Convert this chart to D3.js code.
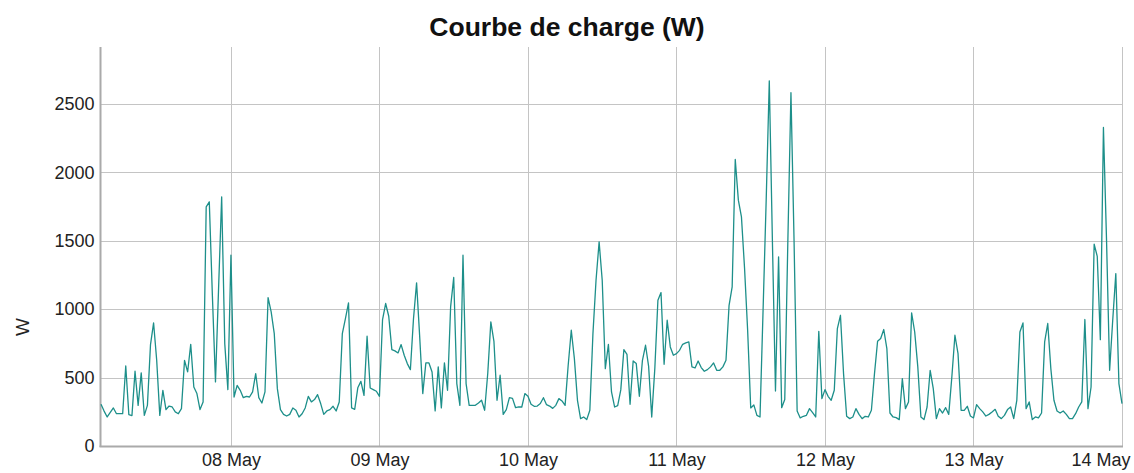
<!DOCTYPE html>
<html>
<head>
<meta charset="utf-8">
<script src="https://cdnjs.cloudflare.com/ajax/libs/d3/7.8.5/d3.min.js"></script>
<style>
  body { margin: 0; background: #fff; }
  svg { font-family: "Liberation Sans", Arial, sans-serif; }
</style>
</head>
<body>
<svg id="chart"></svg>
<script>
// half-hourly readings, starting 07 May 03:00
const startTime = Date.UTC(2023, 4, 7, 3, 0)
const stepMinutes = 30

const day07 = [305, 255, 212, 245, 278, 236, 236, 236, 585, 229, 222, 546, 297, 534, 224, 297, 741, 899, 626, 224,
  407, 266, 292, 285, 249, 236, 273, 626, 541, 743, 431, 383, 266, 322, 1747, 1784, 1100, 468, 1150, 1820, 748, 412]
const day08 = [1394, 358, 443, 407, 353, 363, 358, 395, 529, 353, 314, 395, 1084, 980, 821, 419, 266, 231, 219, 231,
  278, 261, 212, 236, 278, 363, 322, 339, 375, 310, 231, 256, 266, 290, 256, 322, 821, 931, 1045, 278,
  268, 425, 472, 370, 802, 424, 412, 400]
const day09 = [363, 924, 1041, 948, 704, 695, 680, 741, 663, 602, 558, 930, 1192, 800, 383, 607, 607, 541, 256, 578,
  278, 607, 407, 1016, 1231, 456, 297, 1394, 456, 297, 297, 297, 314, 334, 261, 530, 907, 765, 334, 517,
  231, 266, 353, 348, 280, 285, 285, 383]
const day10 = [363, 305, 290, 292, 310, 353, 302, 292, 275, 297, 346, 329, 297, 590, 846, 638, 334, 200, 212, 193,
  261, 821, 1211, 1491, 1211, 565, 743, 395, 285, 295, 410, 704, 670, 305, 621, 602, 363, 626, 736, 582,
  212, 565, 1065, 1121, 597, 919, 724, 663]
const day11 = [675, 699, 743, 753, 760, 578, 570, 621, 573, 546, 558, 578, 607, 553, 553, 578, 626, 1028, 1162, 2093,
  1796, 1674, 1300, 846, 278, 300, 224, 212, 1000, 1800, 2668, 1504, 402, 1382, 280, 339, 1500, 2581, 1504, 256,
  205, 217, 224, 273, 244, 212, 838, 346]
const day12 = [412, 363, 334, 407, 858, 955, 529, 217, 200, 212, 273, 231, 200, 217, 212, 261, 529, 765, 785, 851,
  712, 241, 212, 207, 193, 492, 273, 322, 972, 833, 578, 212, 193, 285, 553, 419, 200, 273, 241, 280,
  231, 504, 809, 675, 261, 261, 290, 219]
const day13 = [205, 302, 273, 249, 219, 231, 249, 268, 217, 200, 224, 266, 285, 200, 334, 833, 899, 273, 322, 193,
  212, 205, 241, 760, 895, 565, 334, 256, 241, 256, 231, 200, 200, 236, 285, 322, 924, 273, 431, 1474,
  1386, 777, 2327, 1504, 553, 919, 1260, 456]
const day14 = [309]

const dayTicks = [8, 9, 10, 11, 12, 13, 14].map(d => new Date(Date.UTC(2023, 4, d)))
const yTicks = [0, 500, 1000, 1500, 2000, 2500]

const loadW = [].concat(day07, day08, day09, day10, day11, day12, day13, day14)
const data = loadW.map((v, i) => ({ t: new Date(startTime + i * stepMinutes * 60000), v: v }))

let width = 1134
let height = 473
let plotLeft = 101, plotRight = 1122, plotTop = 47, plotBottom = 446

const svg = d3.select('#chart')
  .attr('width', width)
  .attr('height', height)

const x = d3.scaleUtc()
  .domain([new Date(startTime), dayTicks[dayTicks.length - 1]])
  .range([plotLeft, plotRight])

const y = d3.scaleLinear()
  .domain([0, 2915])
  .range([plotBottom, plotTop])

// grid
svg.append('g')
  .selectAll('line')
  .data(yTicks.slice(1))
  .enter()
  .append('line')
  .attr('x1', plotLeft).attr('x2', plotRight)
  .attr('y1', d => Math.round(y(d)) + 0.5)
  .attr('y2', d => Math.round(y(d)) + 0.5)
  .attr('stroke', '#c4c4c4')

svg.append('g')
  .selectAll('line')
  .data(dayTicks)
  .enter()
  .append('line')
  .attr('y1', plotTop).attr('y2', plotBottom)
  .attr('x1', d => Math.round(x(d)) + 0.5)
  .attr('x2', d => Math.round(x(d)) + 0.5)
  .attr('stroke', '#c4c4c4')

// axes
const yAxis = d3.axisLeft(y).tickValues(yTicks).tickSize(0).tickPadding(6)
  .tickFormat(d3.format('d'))
const gy = svg.append('g')
  .attr('transform', 'translate(' + (plotLeft - 0.5) + ',0)')
  .call(yAxis)
gy.select('.domain').remove()
gy.selectAll('text').attr('font-size', 18).attr('fill', '#222').attr('font-family', null)

const xAxis = d3.axisBottom(x).tickValues(dayTicks).tickSize(0).tickPadding(7)
  .tickFormat(d3.utcFormat('%d %b'))
const gx = svg.append('g')
  .attr('transform', 'translate(0,' + plotBottom + ')')
  .call(xAxis)
gx.select('.domain').remove()
gx.selectAll('text').attr('font-size', 18).attr('fill', '#222').attr('font-family', null)
gx.selectAll('.tick:last-of-type text').attr('text-anchor', 'end').attr('x', 8)

svg.append('line')
  .attr('x1', plotLeft - 0.5).attr('x2', plotLeft - 0.5)
  .attr('y1', plotTop).attr('y2', plotBottom + 1)
  .attr('stroke', '#aaa').attr('stroke-width', 2)
svg.append('line')
  .attr('x1', plotLeft - 1.5).attr('x2', plotRight + 1)
  .attr('y1', plotBottom + 0.5).attr('y2', plotBottom + 0.5)
  .attr('stroke', '#aaa').attr('stroke-width', 2)

// load curve
const line = d3.line()
  .x(d => x(d.t))
  .y(d => y(d.v))

svg.append('path')
  .datum(data)
  .attr('fill', 'none')
  .attr('stroke', '#1d8f8a')
  .attr('stroke-width', 1.3)
  .attr('stroke-linejoin', 'round')
  .attr('d', line)

// titles
svg.append('text')
  .attr('x', 567).attr('y', 36)
  .attr('text-anchor', 'middle')
  .attr('font-size', 26.5)
  .attr('font-weight', 'bold')
  .attr('fill', '#111')
  .text('Courbe de charge (W)')

svg.append('text')
  .attr('transform', 'translate(29,327) rotate(-90)')
  .attr('text-anchor', 'middle')
  .attr('font-size', 19)
  .attr('fill', '#222')
  .text('W')
</script>
</body>
</html>
